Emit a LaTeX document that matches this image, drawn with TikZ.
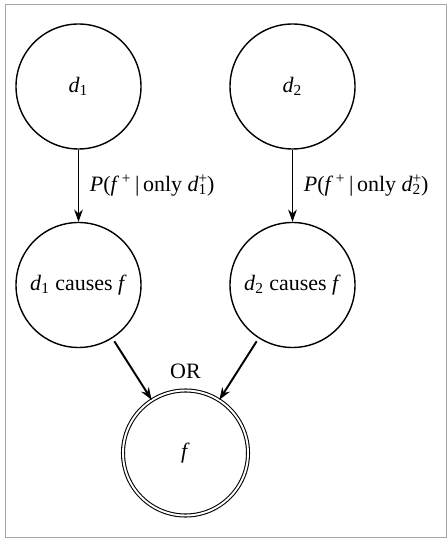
\documentclass[tikz,border=0pt]{standalone}
\usepackage{fontspec}
\setmainfont{Liberation Serif}
\usetikzlibrary{arrows.meta,positioning}

\newcommand{\dv}[1]{\textit{d}\textsubscript{#1}}
\newcommand{\dplus}[1]{\textit{d}\rlap{\textsuperscript{+}}\textsubscript{#1}}

\begin{document}
\begin{tikzpicture}[
    on grid,
    node distance=3.97cm,
    every node/.style={font=\fontsize{12.5}{15}\selectfont},
    state/.style={circle, draw, line width=0.8pt, minimum size=2.5cm, inner sep=0pt},
    result/.style={state, double, line width=0.6pt, double distance=1.1pt},
    >={Stealth[length=7pt,width=5pt]}
]
    % frame and page
    \useasboundingbox (-1.57,1.73) rectangle (7.37,-9.05);
    \draw[gray!70, line width=0.5pt] (-1.47,1.65) rectangle (7.35,-9.01);

    \node[state] (D1) {\dv{1}};
    \node[state, right=4.28cm of D1] (D2) {\dv{2}};
    \node[state, below=of D1] (C1) {\dv{1} causes \textit{f}};
    \node[state, below=of D2] (C2) {\dv{2} causes \textit{f}};
    \node[result, below right=3.36cm and 2.14cm of C1,
          label={[label distance=3pt]above:OR}] (F) {\textit{f}};

    \draw[->, line width=0.6pt] (D1) -- node[right=0.1cm, anchor=west] {\textit{P}(\textit{f}\textsuperscript{\,+}\,|\,only \dplus{1})} (C1);
    \draw[->, line width=0.6pt] (D2) -- node[right=0.1cm, anchor=west] {\textit{P}(\textit{f}\textsuperscript{\,+}\,|\,only \dplus{2})} (C2);
    \draw[->, line width=1.1pt, shorten <=2pt] (C1) -- (F);
    \draw[->, line width=1.1pt, shorten <=2pt] (C2) -- (F);
\end{tikzpicture}
\end{document}
